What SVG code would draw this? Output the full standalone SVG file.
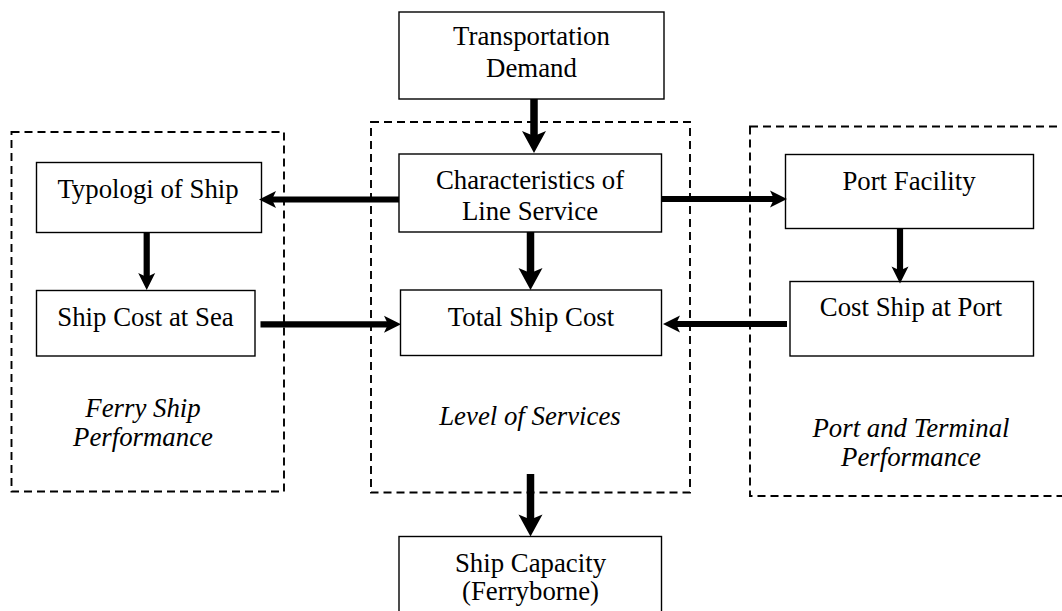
<svg xmlns="http://www.w3.org/2000/svg" width="1062" height="611" viewBox="0 0 1062 611">
  <style>
    .box { fill: #ffffff; stroke: #000000; stroke-width: 1.4; }
    .group { fill: none; stroke: #000000; stroke-width: 1.9; stroke-dasharray: 8 5; }
    .label { font-family: "Liberation Serif", "Times New Roman", serif; font-size: 26.8px; fill: #000000; text-anchor: middle; }
    .caption { font-family: "Liberation Serif", "Times New Roman", serif; font-size: 26.8px; font-style: italic; fill: #000000; text-anchor: middle; }
    .flow { fill: none; stroke: #000000; }
    .thick { stroke-width: 7.5; marker-end: url(#headBig); }
    .thin { stroke-width: 6.2; marker-end: url(#headSmall); }
  </style>
  <defs>
    <marker id="headBig" markerUnits="userSpaceOnUse" markerWidth="22" markerHeight="24" refX="10" refY="12" orient="auto" overflow="visible">
      <path d="M0,0 L22,12 L0,24 L5,12 z" fill="#000000"/>
    </marker>
    <marker id="headSmall" markerUnits="userSpaceOnUse" markerWidth="17" markerHeight="17" refX="8" refY="8.5" orient="auto" overflow="visible">
      <path d="M0,0 L17,8.5 L0,17 L4,8.5 z" fill="#000000"/>
    </marker>
  </defs>

  <!-- dashed grouping frames -->
  <g id="group-ferry">
    <rect class="group" x="11.5" y="132" width="272.5" height="359.5"/>
    <text class="caption" x="143" y="417">Ferry Ship</text>
    <text class="caption" x="143" y="446">Performance</text>
  </g>
  <g id="group-level">
    <rect class="group" x="371" y="122" width="319" height="370.5"/>
    <text class="caption" x="530" y="425">Level of Services</text>
  </g>
  <g id="group-port">
    <rect class="group" x="750" y="126.5" width="330" height="369.5"/>
    <text class="caption" x="911" y="437">Port and Terminal</text>
    <text class="caption" x="911" y="466">Performance</text>
  </g>

  <!-- process boxes -->
  <g id="transportation-demand">
    <rect class="box" x="399" y="12" width="265" height="87"/>
    <text class="label" x="531.5" y="45">Transportation</text>
    <text class="label" x="531.5" y="77">Demand</text>
  </g>
  <g id="characteristics">
    <rect class="box" x="399" y="154" width="262.5" height="78"/>
    <text class="label" x="530" y="189">Characteristics of</text>
    <text class="label" x="530" y="220">Line Service</text>
  </g>
  <g id="typologi">
    <rect class="box" x="36.5" y="162.5" width="225" height="70"/>
    <text class="label" x="148" y="198">Typologi of Ship</text>
  </g>
  <g id="ship-cost-sea">
    <rect class="box" x="36.5" y="290.5" width="218.5" height="65.5"/>
    <text class="label" x="145.5" y="326">Ship Cost at Sea</text>
  </g>
  <g id="total-ship-cost">
    <rect class="box" x="400.5" y="290" width="261" height="65.5"/>
    <text class="label" x="531" y="326">Total Ship Cost</text>
  </g>
  <g id="port-facility">
    <rect class="box" x="785.5" y="154.5" width="248" height="74"/>
    <text class="label" x="909" y="190">Port Facility</text>
  </g>
  <g id="cost-ship-port">
    <rect class="box" x="790" y="281.5" width="243.5" height="74.5"/>
    <text class="label" x="911" y="316">Cost Ship at Port</text>
  </g>
  <g id="ship-capacity">
    <rect class="box" x="399" y="536.5" width="262.5" height="80"/>
    <text class="label" x="530.5" y="572">Ship Capacity</text>
    <text class="label" x="530.5" y="600">(Ferryborne)</text>
  </g>

  <!-- connectors -->
  <g id="connectors">
    <line class="flow thick" x1="534" y1="99" x2="534" y2="141"/>
    <line class="flow thick" x1="530.5" y1="232" x2="530.5" y2="278"/>
    <line class="flow thick" x1="530.5" y1="474" x2="530.5" y2="524.5"/>
    <line class="flow thin" x1="399" y1="199.5" x2="268" y2="199.5"/>
    <line class="flow thin" x1="661" y1="199" x2="778" y2="199"/>
    <line class="flow thin" x1="260.5" y1="324.3" x2="392" y2="324.3"/>
    <line class="flow thin" x1="787" y1="324" x2="672" y2="324"/>
    <line class="flow thin" x1="146.7" y1="233" x2="146.7" y2="281"/>
    <line class="flow thin" x1="900" y1="228.5" x2="900" y2="274.5"/>
  </g>
</svg>
